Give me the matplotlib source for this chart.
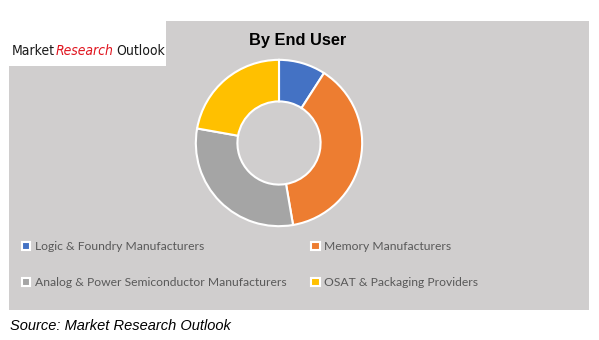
import matplotlib
matplotlib.use("Agg")
import matplotlib.pyplot as plt
from matplotlib.patches import Rectangle
from matplotlib import font_manager

categories = ["Logic & Foundry Manufacturers", "Memory Manufacturers",
              "Analog & Power Semiconductor Manufacturers", "OSAT & Packaging Providers"]
values = [9.1, 38.2, 30.5, 22.2]
colors = ["#4472C4", "#ED7D31", "#A5A5A5", "#FFC000"]
title = "By End User"
source = "Source: Market Research Outlook"

W, H = 599, 340
fig = plt.figure(figsize=(W / 100, H / 100), dpi=100)
fig.patch.set_facecolor("white")

def fx(px):
    return px / W

def fy(py):
    return 1 - py / H

# grey panel
fig.patches.append(Rectangle((fx(9), fy(310)), fx(589) - fx(9), fy(21) - fy(310),
                             transform=fig.transFigure, facecolor="#D0CECE", edgecolor="none", zorder=-2))
# logo white box
fig.patches.append(Rectangle((fx(0), fy(66)), fx(165.5), fy(20) - fy(66),
                             transform=fig.transFigure, facecolor="white", edgecolor="none", zorder=-1))

names = {f.name for f in font_manager.fontManager.ttflist}
narrow = "Liberation Sans Narrow" if "Liberation Sans Narrow" in names else "DejaVu Sans"
kw = dict(fontsize=10.0, family=narrow, fontstretch="condensed", zorder=2, va="baseline")
t1 = fig.text(fx(12), fy(55), "Market", color="#1a1a1a", **kw)
fig.canvas.draw()
r = fig.canvas.get_renderer()
bb = t1.get_window_extent(r)
t2 = fig.text(bb.x1 / W + fx(1), fy(55), "Research", style="italic", color="#E0141E", **kw)
bb2 = t2.get_window_extent(r)
t3 = fig.text(bb2.x1 / W + fx(2), fy(55), "Outlook", color="#1a1a1a", **kw)

fig.text(fx(298), fy(41), title, ha="center", va="center", fontsize=11.8, fontweight="bold",
         family="Liberation Sans", color="black")

R = 84
ax = fig.add_axes([fx(279 - R), fy(143 + R), fx(2 * R), fy(143 - R) - fy(143 + R)], zorder=5)
wedges, _ = ax.pie(values, colors=colors, startangle=90, counterclock=False,
                   wedgeprops=dict(width=0.5, edgecolor="white", linewidth=1.5))
ax.set_xlim(-1.01, 1.01)
ax.set_ylim(-1.01, 1.01)
ax.set_aspect("equal")
ax.axis("off")

order = [0, 2, 1, 3]
leg = fig.legend([wedges[i] for i in order], [categories[i] for i in order], ncol=2,
                 loc="upper left", bbox_to_anchor=(fx(22), fy(241)), frameon=False,
                 prop=dict(family="Lato", size=8.7), labelcolor="#595959",
                 handlelength=0.7, handleheight=0.7, handletextpad=0.4,
                 labelspacing=2.1, columnspacing=2.0, borderaxespad=0, borderpad=0)

fig.text(fx(10), fy(326), source, ha="left", va="center", fontsize=10.5, style="italic",
         family="Liberation Sans", color="black")

fig.savefig("out.png", dpi=100, facecolor="white")
